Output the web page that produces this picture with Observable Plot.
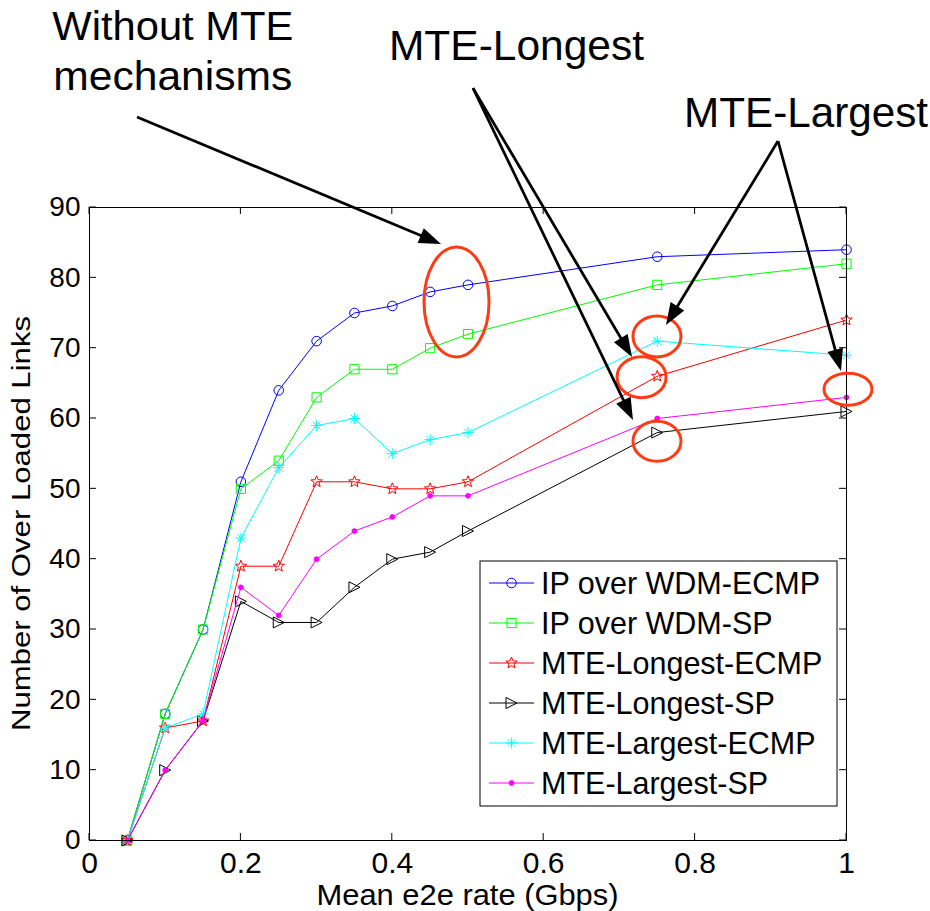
<!DOCTYPE html>
<html>
<head>
<meta charset="utf-8">
<script src="https://cdn.jsdelivr.net/npm/d3@7"></script>
<script src="https://cdn.jsdelivr.net/npm/@observablehq/plot@0.6"></script>
<style>
  html, body { margin: 0; padding: 0; background: #fff; }
  svg { display: block; }
</style>
</head>
<body>
<div id="chart"></div>
<script>
// ---------------- DATA ----------------
const rates = [0.05, 0.1, 0.15, 0.2, 0.25, 0.3, 0.35, 0.4, 0.45, 0.5, 0.75, 1];
const ipOverWdmEcmp  = [0, 18, 30, 51, 64, 71, 75, 76, 78, 79, 83, 84];
const ipOverWdmSp    = [0, 18, 30, 50, 54, 63, 67, 67, 70, 72, 79, 82];
const mteLongestEcmp = [0, 16, 17, 39, 39, 51, 51, 50, 50, 51, 66, 74];
const mteLongestSp   = [0, 10, 17, 34, 31, 31, 36, 40, 41, 44, 58, 61];
const mteLargestEcmp = [0, 16, 18, 43, 53, 59, 60, 55, 57, 58, 71, 69];
const mteLargestSp   = [0, 10, 17, 36, 32, 40, 44, 46, 49, 49, 60, 63];
const seriesNames = ["IP over WDM-ECMP", "IP over WDM-SP", "MTE-Longest-ECMP",
                     "MTE-Longest-SP", "MTE-Largest-ECMP", "MTE-Largest-SP"];
const seriesValues = [ipOverWdmEcmp, ipOverWdmSp, mteLongestEcmp, mteLongestSp, mteLargestEcmp, mteLargestSp];
const xTicks = [0, 0.2, 0.4, 0.6, 0.8, 1];
const yTicks = [0, 10, 20, 30, 40, 50, 60, 70, 80, 90];
const xLabel = "Mean e2e rate (Gbps)";
const yLabel = "Number of Over Loaded Links";
const annotationTexts = ["Without MTE", "mechanisms", "MTE-Longest", "MTE-Largest"];

// ---------------- STYLES ----------------
const colors = ["#0000ff", "#00ff00", "#ff0000", "#000000", "#00ffff", "#ff00ff"];
const shapes = ["circle", "square", "star", "triRight", "asterisk", "dot"];
const FONT = "'Liberation Sans', Arial, Helvetica, sans-serif";

function makeSymbol(shape) {
  return {
    draw(ctx) {
      if (shape === "circle") { const h = 4.8; ctx.moveTo(h, 0); ctx.arc(0, 0, h, 0, 2 * Math.PI); }
      else if (shape === "square") { const h = 4.6; ctx.rect(-h, -h, 2 * h, 2 * h); }
      else if (shape === "star") {
        const R = 6, r = 2.6;
        for (let k = 0; k < 10; k++) {
          const a = -Math.PI / 2 + k * Math.PI / 5, rr = k % 2 ? r : R;
          const px = rr * Math.cos(a), py = rr * Math.sin(a);
          k ? ctx.lineTo(px, py) : ctx.moveTo(px, py);
        }
        ctx.closePath();
      }
      else if (shape === "triRight") { const h = 5.5; ctx.moveTo(-h, -h); ctx.lineTo(h, 0); ctx.lineTo(-h, h); ctx.closePath(); }
      else if (shape === "asterisk") {
        const h = 5.5, d = 3.9;
        ctx.moveTo(-h, 0); ctx.lineTo(h, 0); ctx.moveTo(0, -h); ctx.lineTo(0, h);
        ctx.moveTo(-d, -d); ctx.lineTo(d, d); ctx.moveTo(-d, d); ctx.lineTo(d, -d);
      }
      else if (shape === "dot") { const h = 2.4; ctx.moveTo(h, 0); ctx.arc(0, 0, h, 0, 2 * Math.PI); }
    }
  };
}

// tidy table built from the arrays
const table = [];
seriesNames.forEach((name, s) => rates.forEach((r, i) => table.push({series: name, s, rate: r, value: seriesValues[s][i]})));

const marks = [];
seriesNames.forEach((name, s) => {
  const d = table.filter(t => t.s === s);
  marks.push(Plot.line(d, {x: "rate", y: "value", stroke: colors[s], strokeWidth: 1}));
  marks.push(Plot.dot(d, {
    x: "rate", y: "value", symbol: makeSymbol(shapes[s]), r: 5,
    stroke: colors[s], strokeWidth: 1,
    fill: shapes[s] === "dot" ? colors[s] : "none"
  }));
});

const plot = Plot.plot({
  width: 930, height: 911,
  marginLeft: 89, marginRight: 84, marginTop: 207, marginBottom: 71,
  style: {fontFamily: FONT, background: "white", color: "black", overflow: "visible"},
  x: {domain: [0, 1]},
  y: {domain: [0, 90]},
  marks: [
    ...marks,
    Plot.frame({stroke: "black", strokeWidth: 1}),
    Plot.axisX(xTicks, {tickSize: 0, tickPadding: 11, fontSize: 30, label: null, tickFormat: d3.format("~g")}),
    Plot.axisY(yTicks, {tickSize: 0, tickPadding: 9, fontSize: 28, label: null, tickFormat: d3.format("~g")})
  ]
});

document.getElementById("chart").appendChild(plot);

const sx = plot.scale("x").apply, sy = plot.scale("y").apply;
const svg = d3.select(plot);
const [x0, x1] = [sx(0), sx(1)], [yb, yt] = [sy(0), sy(90)];

// inward ticks on all four sides (MATLAB style)
const tk = 7;
const tg = svg.append("g").attr("stroke", "black").attr("stroke-width", 1);
xTicks.forEach(v => {
  tg.append("line").attr("x1", sx(v)).attr("x2", sx(v)).attr("y1", yb).attr("y2", yb - tk);
  tg.append("line").attr("x1", sx(v)).attr("x2", sx(v)).attr("y1", yt).attr("y2", yt + tk);
});
yTicks.forEach(v => {
  tg.append("line").attr("y1", sy(v)).attr("y2", sy(v)).attr("x1", x0).attr("x2", x0 + tk);
  tg.append("line").attr("y1", sy(v)).attr("y2", sy(v)).attr("x1", x1).attr("x2", x1 - tk);
});

// axis labels
svg.append("text").text(xLabel)
  .attr("x", (x0 + x1) / 2).attr("y", yb + 65).attr("text-anchor", "middle")
  .attr("font-family", FONT).attr("font-size", 30)
  .attr("textLength", 302).attr("lengthAdjust", "spacingAndGlyphs");
svg.append("text").text(yLabel)
  .attr("transform", `translate(30,${(yb + yt) / 2}) rotate(-90)`).attr("text-anchor", "middle")
  .attr("font-family", FONT).attr("font-size", 25)
  .attr("textLength", 415).attr("lengthAdjust", "spacingAndGlyphs");

// legend (inside the axes, lower right)
const lg = svg.append("g");
const lx = x1 - 366, ly = yb - 279, lw = 357, lh = 245;
lg.append("rect").attr("x", lx).attr("y", ly).attr("width", lw).attr("height", lh)
  .attr("fill", "white").attr("stroke", "black").attr("stroke-width", 1);
seriesNames.forEach((name, s) => {
  const cy = ly + 22 + s * 40;
  lg.append("line").attr("x1", lx + 9).attr("x2", lx + 54).attr("y1", cy).attr("y2", cy)
    .attr("stroke", colors[s]).attr("stroke-width", 1);
  const p = d3.path(); makeSymbol(shapes[s]).draw(p);
  lg.append("path").attr("d", p.toString()).attr("transform", `translate(${lx + 31.5},${cy})`)
    .attr("stroke", colors[s]).attr("stroke-width", 1)
    .attr("fill", shapes[s] === "dot" ? colors[s] : "none");
  lg.append("text").text(name).attr("x", lx + 61).attr("y", cy + 11).attr("text-anchor", "start")
    .attr("font-family", FONT).attr("font-size", 30.5).attr("fill", "black");
});

// ---------------- ANNOTATIONS (anchored in data units) ----------------
const ellipses = [
  {x: 0.4855, y: 76.5, rx: 32.5, ry: 55},
  {x: 0.7503, y: 71.6, rx: 24, ry: 20.5},
  {x: 0.7299, y: 65.8, rx: 24.5, ry: 20.5},
  {x: 0.7503, y: 56.7, rx: 24, ry: 20},
  {x: 1.0026, y: 64.1, rx: 24, ry: 16}
];
const arrows = [
  {x1: 0.0634, y1: 102.8, x2: 0.465, y2: 84.74},
  {x1: 0.5073, y1: 106.9, x2: 0.7173, y2: 68.67},
  {x1: 0.5073, y1: 106.9, x2: 0.7186, y2: 59.72},
  {x1: 0.9102, y1: 99.38, x2: 0.7622, y2: 73.22},
  {x1: 0.9102, y1: 99.38, x2: 0.9934, y2: 66.68}
];
const labels = [
  {text: annotationTexts[0], x: 0.1107, y: 113.74, size: 40, len: 241},
  {text: annotationTexts[1], x: 0.1107, y: 106.64, size: 40, len: 239},
  {text: annotationTexts[2], x: 0.5647, y: 110.9, size: 42, len: 255},
  {text: annotationTexts[3], x: 0.9472, y: 101.36, size: 42, len: 244}
];

const ag = svg.append("g");
ellipses.forEach(e => {
  ag.append("ellipse").attr("cx", sx(e.x)).attr("cy", sy(e.y)).attr("rx", e.rx).attr("ry", e.ry)
    .attr("fill", "none").attr("stroke", "#ff3b14").attr("stroke-width", 3);
});
arrows.forEach(a => {
  const px1 = sx(a.x1), py1 = sy(a.y1), px2 = sx(a.x2), py2 = sy(a.y2);
  const dx = px2 - px1, dy = py2 - py1, L = Math.hypot(dx, dy), ux = dx / L, uy = dy / L;
  const hl = 22, hw = 8;
  const bx = px2 - ux * hl, by = py2 - uy * hl;
  ag.append("line").attr("x1", px1).attr("y1", py1).attr("x2", bx + ux * 2).attr("y2", by + uy * 2)
    .attr("stroke", "black").attr("stroke-width", 2.75);
  ag.append("path")
    .attr("d", `M${px2},${py2}L${bx - uy * hw},${by + ux * hw}L${bx + uy * hw},${by - ux * hw}Z`)
    .attr("fill", "black");
});
labels.forEach(t => {
  ag.append("text").text(t.text).attr("x", sx(t.x)).attr("y", sy(t.y)).attr("text-anchor", "middle")
    .attr("font-family", FONT).attr("font-size", t.size).attr("fill", "black")
    .attr("textLength", t.len).attr("lengthAdjust", "spacingAndGlyphs");
});
</script>
</body>
</html>
